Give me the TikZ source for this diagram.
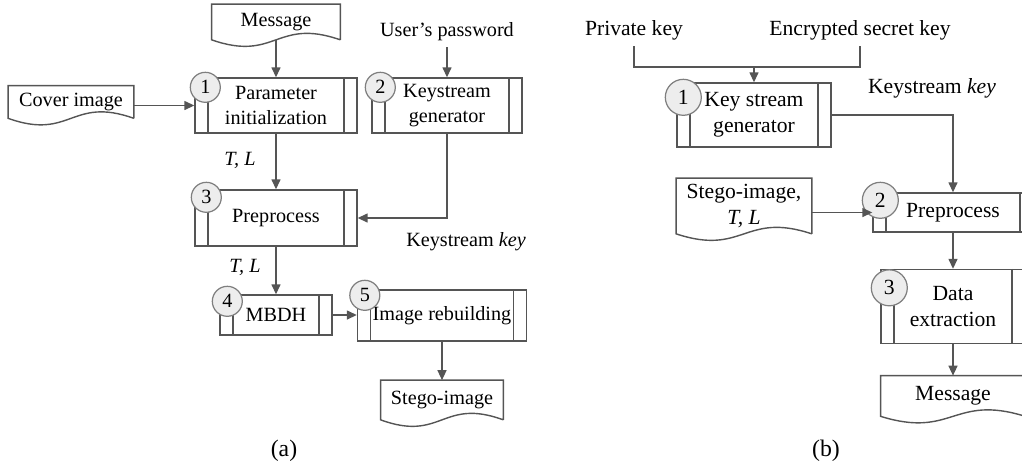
\documentclass[tikz,border=0pt]{standalone}
\usepackage{fontspec}
\setmainfont{Liberation Serif}
\usetikzlibrary{arrows.meta,positioning,calc}
\definecolor{linegray}{HTML}{555555}
\definecolor{circfill}{HTML}{EDEDED}
\definecolor{circline}{HTML}{7F7F7F}

\begin{document}
\begin{tikzpicture}[x=0.02cm,y=-0.02cm,font=\fontsize{11.5}{14}\selectfont]
	\tikzstyle{proc}=[draw=linegray,line width=0.8pt,align=center,inner sep=0pt,
		append after command={\pgfextra{\draw[linegray,line width=0.8pt]
			([xshift=0.27cm]\tikzlastnode.north west) -- ([xshift=0.27cm]\tikzlastnode.south west)
			([xshift=-0.27cm]\tikzlastnode.north east) -- ([xshift=-0.27cm]\tikzlastnode.south east);}}]
	\tikzstyle{doc}=[align=center,inner sep=0pt,
		append after command={\pgfextra{\draw[linegray,line width=0.8pt]
			(\tikzlastnode.south east) -- (\tikzlastnode.north east) -- (\tikzlastnode.north west) -- (\tikzlastnode.south west)
			.. controls ($(\tikzlastnode.south)+(0,-0.45cm)$) and ($(\tikzlastnode.south)+(0,0.45cm)$) .. (\tikzlastnode.south east);}}]
	\tikzstyle{num}=[circle,draw=circline,fill=circfill,line width=0.7pt,minimum size=0.6cm,inner sep=0pt]
	\tikzstyle{bignum}=[num,minimum size=0.72cm]
	\tikzstyle{bigtxt}=[font=\fontsize{12.3}{15}\selectfont]
	\tikzstyle{captxt}=[font=\fontsize{13.5}{16}\selectfont]
	\tikzstyle{flow}=[draw=linegray,line width=0.8pt,-{Triangle[length=0.2cm,width=0.18cm]}]
	\tikzstyle{wire}=[draw=linegray,line width=0.8pt]

	\clip (0,0) rectangle (1022,468);

	% (a) embedding
	\node[doc,minimum width=2.56cm,minimum height=0.7cm] (msgIn) at (276,22) {Message};
	\node (passwd) at (447,32) {User’s password};
	\node[doc,minimum width=2.5cm,minimum height=0.64cm] (coverImg) at (71,102) {Cover image};
	\node[proc,minimum width=3.24cm,minimum height=1.1cm] (paramInit) at (276,105.5) {Parameter\\initialization};
	\node[proc,minimum width=3.0cm,minimum height=1.1cm] (keyGen) at (447,105.5) {Keystream\\generator};
	\node[proc,minimum width=3.24cm,minimum height=1.12cm] (preproc) at (276,218) {Preprocess};
	\node[proc,minimum width=2.24cm,minimum height=0.8cm] (mbdh) at (276,315) {MBDH};
	\node[proc,minimum width=3.38cm,minimum height=1.02cm] (rebuild) at (442,315.5) {Image rebuilding};
	\node[doc,minimum width=2.44cm,minimum height=0.78cm] (stegoOut) at (442,400) {Stego-image};
	\node (tlA) at (240,160) {\textit{T, L}};
	\node (tlB) at (245,267) {\textit{T, L}};
	\node (ksA) at (466,242) {Keystream \textit{key}};
	\node[captxt] (capA) at (284,451) {(a)};

	\node[num] (n1) at ([shift={(11,10)}]paramInit.north west) {1};
	\node[num] (n2) at ([shift={(9,10)}]keyGen.north west) {2};
	\node[num] (n3) at ([shift={(12,8)}]preproc.north west) {3};
	\node[num] (n4) at ([shift={(8,7)}]mbdh.north west) {4};
	\node[num] (n5) at ([shift={(8,6)}]rebuild.north west) {5};

	\draw[flow] (msgIn) -- (paramInit);
	\draw[flow] (passwd) -- (keyGen);
	\draw[flow] (coverImg.east |- paramInit.west) -- (paramInit.west);
	\draw[flow] (paramInit) -- (preproc);
	\draw[flow] (keyGen.south) |- (preproc.east);
	\draw[flow] (preproc) -- (mbdh);
	\draw[flow] (mbdh.east) -- (mbdh.east -| rebuild.west);
	\draw[flow] (rebuild) -- (stegoOut);

	% (b) extraction
	\node[bigtxt] (privKey) at (634,30) {Private key};
	\node[bigtxt] (encKey) at (860,30) {Encrypted secret key};
	\node[proc,bigtxt,minimum width=3.08cm,minimum height=1.28cm] (keyGenB) at (754,115) {Key stream\\generator};
	\node[bigtxt] (ksB) at (932,88) {Keystream \textit{key}};
	\node[doc,bigtxt,minimum width=2.7cm,minimum height=1.1cm] (stegoIn) at (744,206) {Stego-image,\\\textit{T, L}};
	\node[proc,bigtxt,minimum width=3.2cm,minimum height=0.78cm] (preprocB) at (953,212.5) {Preprocess};
	\node[proc,bigtxt,minimum width=2.88cm,minimum height=1.48cm] (extract) at (953,306.5) {Data\\extraction};
	\node[doc,bigtxt,minimum width=2.88cm,minimum height=0.8cm] (msgOut) at (953,396) {Message};
	\node[captxt] (capB) at (826,451) {(b)};

	\node[bignum,bigtxt] (m1) at ([shift={(7,15)}]keyGenB.north west) {1};
	\node[bignum,bigtxt] (m2) at ([shift={(8,8)}]preprocB.north west) {2};
	\node[bignum,bigtxt] (m3) at ([shift={(9,19)}]extract.north west) {3};

	\coordinate (joinB) at (754,67);
	\draw[wire] (privKey.south) |- (joinB);
	\draw[wire] (encKey.south) |- (joinB);
	\draw[flow] (joinB) -- (keyGenB);
	\draw[flow] (keyGenB.east) -| (preprocB.north);
	\draw[flow] (stegoIn.east |- preprocB.west) -- (preprocB.west);
	\draw[flow] (preprocB) -- (extract);
	\draw[flow] (extract) -- (msgOut);
\end{tikzpicture}
\end{document}
